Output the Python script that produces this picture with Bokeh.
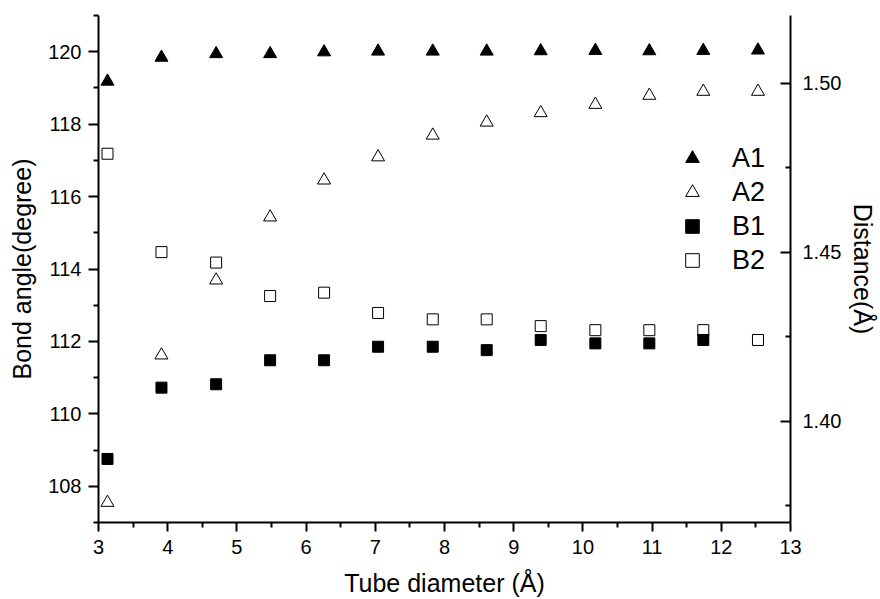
from bokeh.plotting import figure
from bokeh.models import (Range1d, LinearAxis, FixedTicker, PrintfTickFormatter,
                          Legend, LegendItem)
from bokeh.embed import file_html
from bokeh.resources import INLINE

# ---- data ----
diameter = [3.13, 3.91, 4.70, 5.48, 6.26, 7.04, 7.83, 8.61, 9.39, 10.18, 10.96, 11.74, 12.53]
a1 = [119.18, 119.84, 119.94, 119.94, 119.99, 120.01, 120.01, 120.01, 120.02, 120.03, 120.02, 120.03, 120.04]
a2 = [107.55, 111.62, 113.69, 115.43, 116.45, 117.09, 117.69, 118.05, 118.31, 118.54, 118.79, 118.90, 118.90]
b1_diameter = [3.13, 3.91, 4.70, 5.48, 6.26, 7.04, 7.83, 8.61, 9.39, 10.18, 10.96, 11.74]
b1 = [1.3888, 1.4099, 1.4109, 1.4180, 1.4180, 1.4220, 1.4220, 1.4210, 1.4240, 1.4230, 1.4230, 1.4240]
b2 = [1.4791, 1.4500, 1.4469, 1.4370, 1.4380, 1.4320, 1.4301, 1.4301, 1.4281, 1.4269, 1.4269, 1.4269, 1.4240]

x_ticks = [3, 4, 5, 6, 7, 8, 9, 10, 11, 12, 13]
x_minor = [3.5, 4.5, 5.5, 6.5, 7.5, 8.5, 9.5, 10.5, 11.5, 12.5]
left_ticks = [108, 110, 112, 114, 116, 118, 120]
left_minor = [107, 109, 111, 113, 115, 117, 119, 121]
right_ticks = [1.40, 1.45, 1.50]
right_minor = [1.375, 1.425, 1.475]

FONT = "Liberation Sans"

p = figure(width=880, height=599, title=None,
           x_range=Range1d(3, 13), y_range=Range1d(107, 121),
           output_backend="svg", toolbar_location=None,
           min_border_left=98, min_border_right=88,
           min_border_top=15, min_border_bottom=76)
p.extra_y_ranges = {"dist": Range1d(1.37, 1.52)}
p.xgrid.visible = False
p.ygrid.visible = False
p.outline_line_color = None
p.background_fill_color = "white"
p.border_fill_color = "white"


def style_axis(ax):
    ax.axis_line_color = "black"
    ax.axis_line_width = 2
    ax.major_tick_line_color = "black"
    ax.minor_tick_line_color = "black"
    ax.major_tick_line_width = 2
    ax.minor_tick_line_width = 2
    ax.major_label_text_font = FONT
    ax.major_label_text_font_size = "20px"
    ax.major_label_text_color = "black"
    ax.axis_label_text_font = FONT
    ax.axis_label_text_font_size = "25px"
    ax.axis_label_text_font_style = "normal"
    ax.axis_label_text_color = "black"


xa = p.xaxis[0]
style_axis(xa)
xa.ticker = FixedTicker(ticks=x_ticks, minor_ticks=x_minor)
xa.axis_label = "Tube diameter (Å)"
xa.major_tick_out = 9
xa.major_tick_in = 0
xa.minor_tick_out = 5
xa.minor_tick_in = 0
xa.major_label_standoff = 8
xa.axis_label_standoff = 12

ya = p.yaxis[0]
style_axis(ya)
ya.ticker = FixedTicker(ticks=left_ticks, minor_ticks=left_minor)
ya.axis_label = "Bond angle(degree)"
ya.major_tick_out = 10
ya.major_tick_in = 0
ya.minor_tick_out = 5
ya.minor_tick_in = 0
ya.major_label_standoff = 7
ya.axis_label_standoff = 9

ra = LinearAxis(y_range_name="dist")
style_axis(ra)
ra.ticker = FixedTicker(ticks=right_ticks, minor_ticks=right_minor)
ra.formatter = PrintfTickFormatter(format="%.2f")
ra.axis_label = "Distance(Å)"
ra.major_tick_out = 0
ra.major_tick_in = 10
ra.minor_tick_out = 0
ra.minor_tick_in = 5
ra.major_label_standoff = 12
ra.axis_label_standoff = 5
p.add_layout(ra, "right")

r_a1 = p.scatter(diameter, a1, marker="triangle", size=13,
                 fill_color="black", line_color="black", line_width=1)
r_a2 = p.scatter(diameter, a2, marker="triangle", size=13,
                 fill_color="white", line_color="black", line_width=1)
r_b2 = p.scatter(diameter, b2, marker="square", size=11, y_range_name="dist",
                 fill_color="white", line_color="black", line_width=1)
r_b1 = p.scatter(b1_diameter, b1, marker="square", size=11, y_range_name="dist",
                 fill_color="black", line_color="black", line_width=1)

legend = Legend(items=[LegendItem(label="A1", renderers=[r_a1]),
                       LegendItem(label="A2", renderers=[r_a2]),
                       LegendItem(label="B1", renderers=[r_b1]),
                       LegendItem(label="B2", renderers=[r_b2])],
                location=(577, 245))
legend.glyph_width = 34
legend.glyph_height = 34
legend.label_height = 34
legend.spacing = 0
legend.padding = 0
legend.margin = 0
legend.label_standoff = 23
legend.border_line_color = None
legend.background_fill_alpha = 0
legend.label_text_font = FONT
legend.label_text_font_size = "27px"
legend.label_text_color = "black"
p.add_layout(legend)

open("out.html", "w").write(file_html(p, INLINE))
